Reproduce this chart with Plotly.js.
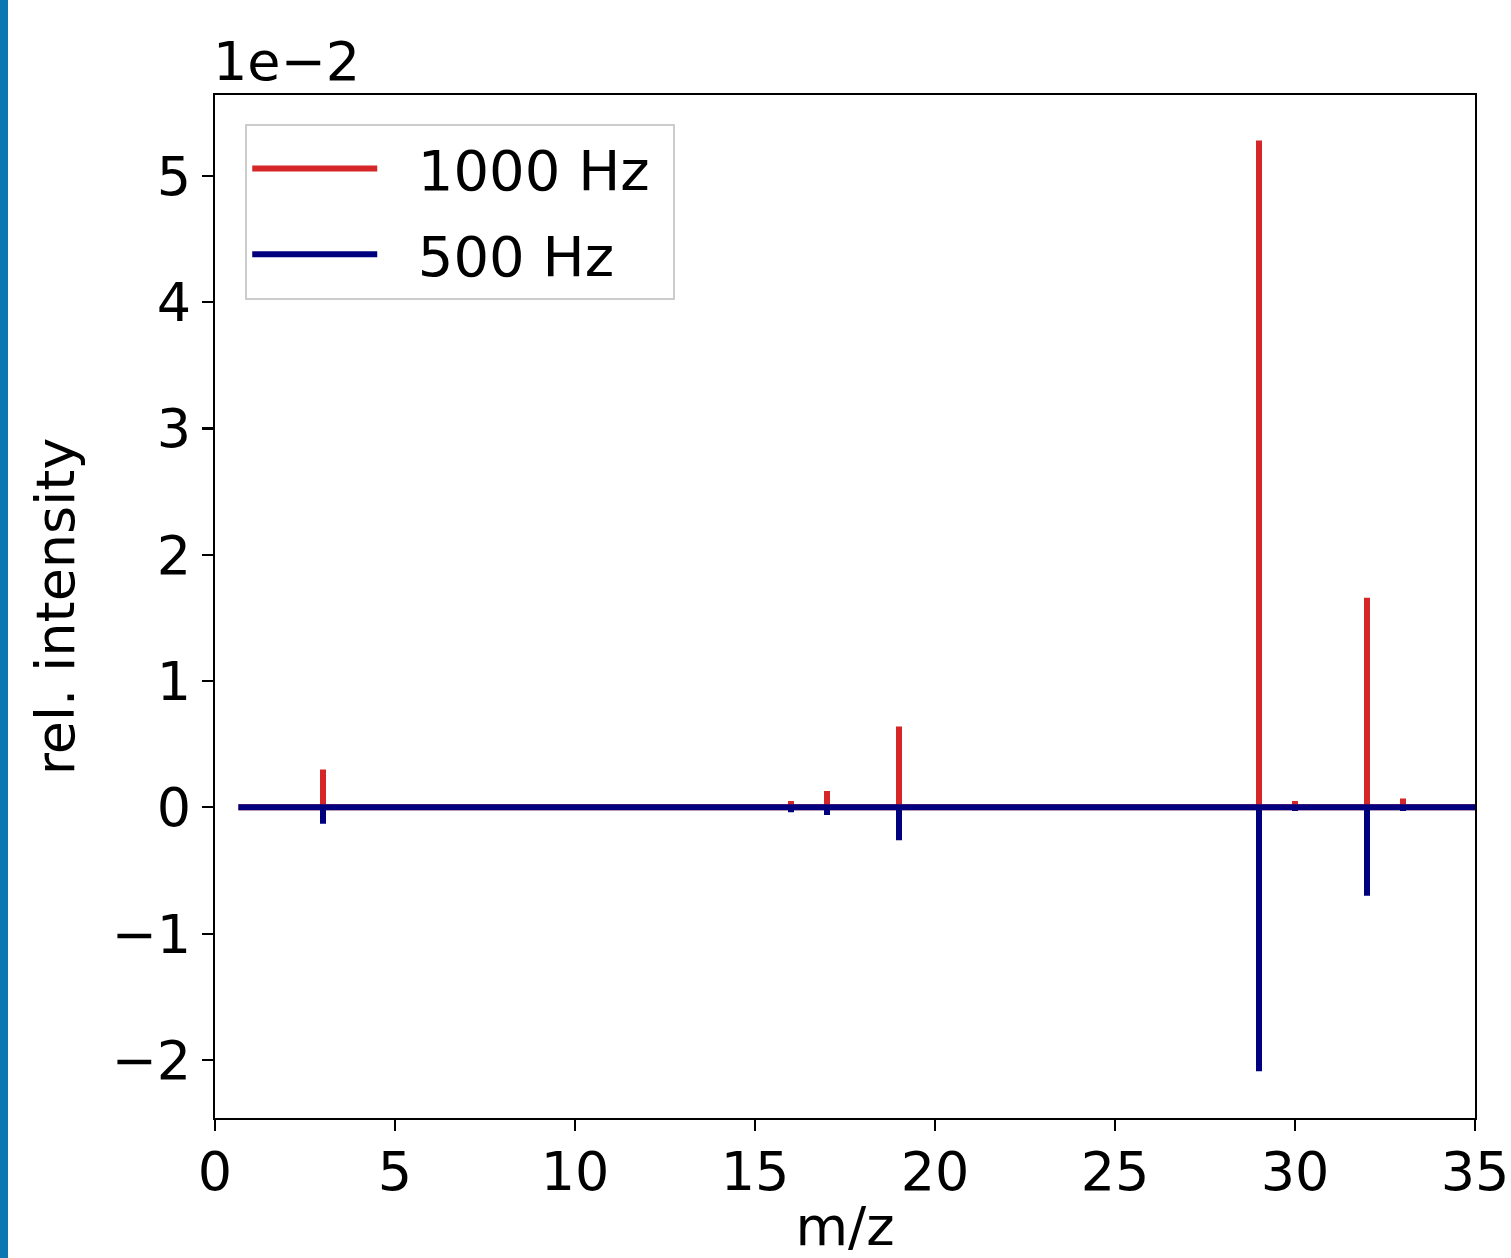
<!DOCTYPE html>
<html>
<head>
<meta charset="utf-8">
<script src="https://cdn.plot.ly/plotly-3.0.1.min.js"></script>
<style>
html,body{margin:0;padding:0;background:#fff;}
#stripe{position:absolute;left:0;top:0;width:8px;height:1258px;background:#0a77b2;z-index:5;}
#chart{width:1511px;height:1258px;}
</style>
</head>
<body>
<div id="stripe"></div>
<div id="chart"></div>
<script>
// m/z positions of peaks
const peakMz = [3, 14, 15, 16, 17, 18, 19, 20, 29, 30, 32, 33, 34];
// relative intensity (units of 1e-2)
const int1000 = [0.30, 0.01, 0.01, 0.05, 0.13, 0.02, 0.64, 0.01, 5.28, 0.05, 1.66, 0.07, 0.01];
const int500  = [0.13, 0.01, 0.01, 0.04, 0.06, 0.02, 0.26, 0.01, 2.09, 0.03, 0.70, 0.03, 0.01];
const mzStart = 0.65;
const mzEnd = 35;
const seriesNames = ['1000 Hz', '500 Hz'];
const seriesColors = ['#d62728', '#00007f'];

function stickSpectrum(mz, vals, sign) {
  const x = [mzStart], y = [0];
  for (let i = 0; i < mz.length; i++) {
    x.push(mz[i], mz[i], mz[i]);
    y.push(0, sign * vals[i], 0);
  }
  x.push(mzEnd); y.push(0);
  return {x, y};
}

const s1 = stickSpectrum(peakMz, int1000, 1);
const s2 = stickSpectrum(peakMz, int500, -1);

const font = 'DejaVu Sans, sans-serif';
const pad = '\u00a0\u00a0';
const tail = '\u00a0';
const traces = [
  {x: s1.x, y: s1.y, mode: 'lines', name: pad + seriesNames[0] + tail, legendgroup: 'a',
   line: {color: seriesColors[0], width: 6}},
  {x: s2.x, y: s2.y, mode: 'lines', name: pad + seriesNames[1] + tail, legendgroup: 'b',
   line: {color: seriesColors[1], width: 6}}
];

const axisCommon = {
  showgrid: false, zeroline: false, showline: true, mirror: true,
  linecolor: '#000', linewidth: 2.2,
  ticks: 'outside', ticklen: 11, tickwidth: 2.2, tickcolor: '#000',
  tickfont: {family: font, size: 54, color: '#000'}
};

const layout = {
  width: 1511, height: 1258,
  paper_bgcolor: '#fff', plot_bgcolor: '#fff',
  margin: {l: 215, r: 36, t: 95, b: 140},
  showlegend: true,
  legend: {
    x: 0.024, y: 0.972, xanchor: 'left', yanchor: 'top',
    bgcolor: 'rgba(255,255,255,0.8)', bordercolor: '#cccccc', borderwidth: 2,
    font: {family: font, size: 56, color: '#000'},
    itemwidth: 125, tracegroupgap: 10
  },
  xaxis: Object.assign({}, axisCommon, {
    range: [0, 35], tickvals: [0, 5, 10, 15, 20, 25, 30, 35],
    ticklabelstandoff: -6,
    title: {text: 'm/z', font: {family: font, size: 54, color: '#000'}, standoff: 14}
  }),
  yaxis: Object.assign({}, axisCommon, {
    range: [-2.46, 5.64], tickvals: [-2, -1, 0, 1, 2, 3, 4, 5],
    title: {text: 'rel. intensity', font: {family: font, size: 54, color: '#000'}, standoff: 20}
  }),
  annotations: [{
    xref: 'paper', yref: 'paper', x: 0, y: 1, xanchor: 'left', yanchor: 'bottom',
    text: '1e\u22122', showarrow: false, font: {family: font, size: 54, color: '#000'}, xshift: -4
  }]
};

Plotly.newPlot('chart', traces, layout, {displayModeBar: false, staticPlot: true});
</script>
</body>
</html>
